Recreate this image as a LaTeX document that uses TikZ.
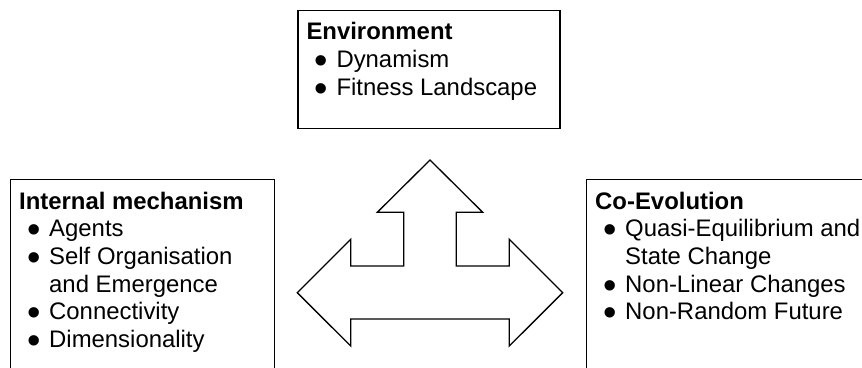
\documentclass[tikz,border=0pt]{standalone}
\usepackage{fontspec}
\setmainfont{Liberation Sans}
\usetikzlibrary{positioning}

\newcommand{\itm}[1]{\hspace*{8.4pt}\makebox[21.6pt][l]{\smash{\raisebox{-6pt}{\scalebox{1.6}{\textbullet}}}}#1}
\newcommand{\itmcont}[1]{\hspace*{30pt}#1}

\begin{document}
\begin{tikzpicture}[x=1pt, y=1pt,
    panel/.style={draw, line width=1.2pt, anchor=north west, inner sep=0pt},
    blurb/.style={anchor=base west, align=left, inner sep=0pt,
        font=\fontsize{23.9}{27.6}\selectfont},
    bigarrow/.style={line width=1.3pt, line join=miter}]

    \useasboundingbox (0,0) rectangle (862,367);
    \clip (0,0) rectangle (862,367);

    % Boxes
    \node[panel, minimum width=262pt, minimum height=118.3pt] (envbox) at (297.3,357) {};
    \node[panel, minimum width=264pt, minimum height=220pt] (mechbox) at (10,187.7) {};
    \node[panel, minimum width=300pt, minimum height=220pt] (coevbox) at (586,187.7) {};

    % Environment (base = last line)
    \node[blurb] (envtext) at ([shift={(9,-85.2)}]envbox.north west)
        {\textbf{Environment}\\
         \itm{Dynamism}\\
         \itm{Fitness Landscape}};

    % Internal mechanism
    \node[blurb] (mechtext) at ([shift={(9,-168)}]mechbox.north west)
        {\textbf{Internal mechanism}\\
         \itm{Agents}\\
         \itm{Self Organisation}\\
         \itmcont{and Emergence}\\
         \itm{Connectivity}\\
         \itm{Dimensionality}};

    % Co-Evolution
    \node[blurb] (coevtext) at ([shift={(9,-140.4)}]coevbox.north west)
        {\textbf{Co-Evolution}\\
         \itm{Quasi-Equilibrium and}\\
         \itmcont{State Change}\\
         \itm{Non-Linear Changes}\\
         \itm{Non-Random Future}};

    % Three-way arrow
    \draw[bigarrow] (430,207) -- (482.7,154.7) -- (456.3,154.7) -- (456.3,101)
        -- (509.3,101) -- (509.3,127.7) -- (562.7,74.3) -- (509.3,21)
        -- (509.3,48) -- (350.7,48) -- (350.7,21) -- (297.3,74.3)
        -- (350.7,127.7) -- (350.7,101) -- (403.7,101) -- (403.7,154.7)
        -- (377.3,154.7) -- cycle;

\end{tikzpicture}
\end{document}
